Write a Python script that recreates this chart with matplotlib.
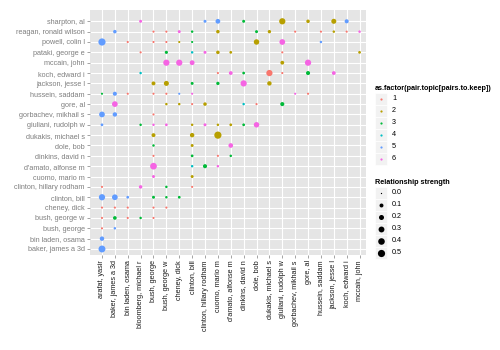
import numpy as np
import matplotlib.pyplot as plt
from matplotlib.patches import Rectangle

plt.rcParams['font.family'] = ['Liberation Sans', 'DejaVu Sans']

# column people (x axis), left to right
x_keys = ['arafat', 'baker', 'binladen', 'bloomberg', 'bush', 'bushw', 'cheney',
          'bclinton', 'hclinton', 'cuomo', 'damato', 'dinkins', 'dole', 'dukakis',
          'giuliani', 'gorbachev', 'gore', 'hussein', 'jackson', 'koch', 'mccain']
x_labels = ['arafat, yasir', 'baker, james a 3d', 'bin laden, osama', 'bloomberg, michael r',
            'bush, george', 'bush, george w', 'cheney, dick', 'clinton, bill',
            'clinton, hillary rodham', 'cuomo, mario m', "d'amato, alfonse m",
            'dinkins, david n', 'dole, bob', 'dukakis, michael s', 'giuliani, rudolph w',
            'gorbachev, mikhail s', 'gore, al', 'hussein, saddam', 'jackson, jesse l',
            'koch, edward i', 'mccain, john']

# row people (y axis), bottom to top
y_keys = ['baker', 'binladen', 'bush', 'bushw', 'cheney', 'bclinton', 'hclinton', 'cuomo',
          'damato', 'dinkins', 'dole', 'dukakis', 'giuliani', 'gorbachev', 'gore',
          'hussein', 'jackson', 'koch', 'mccain', 'pataki', 'powell', 'reagan', 'sharpton']
y_labels = ['baker, james a 3d', 'bin laden, osama', 'bush, george', 'bush, george w',
            'cheney, dick', 'clinton, bill', 'clinton, hillary rodham', 'cuomo, mario m',
            "d'amato, alfonse m", 'dinkins, david n', 'dole, bob', 'dukakis, michael s',
            'giuliani, rudolph w', 'gorbachev, mikhail s', 'gore, al', 'hussein, saddam',
            'jackson, jesse l', 'koch, edward i', 'mccain, john', 'pataki, george e',
            'powell, colin l', 'reagan, ronald wilson', 'sharpton, al']

# pairs kept: row person, column person, topic, relationship strength
pair_row = (['sharpton'] * 8 + ['reagan'] * 13 + ['powell'] * 9 + ['pataki'] * 8
            + ['mccain'] * 5 + ['koch'] * 8 + ['jackson'] * 6 + ['hussein'] * 9
            + ['gore'] * 8 + ['gorbachev'] * 3 + ['giuliani'] * 10 + ['dukakis'] * 3
            + ['dole'] * 3 + ['dinkins'] * 4 + ['damato'] * 4 + ['cuomo'] * 2
            + ['hclinton'] * 4 + ['bclinton'] * 6 + ['cheney'] * 5 + ['bushw'] * 5
            + ['bush'] * 2 + ['binladen'] * 1 + ['baker'] * 1)
pair_col = ['bloomberg', 'hclinton', 'cuomo', 'dinkins', 'giuliani', 'gore', 'jackson', 'koch',
            'baker', 'bush', 'bushw', 'cheney', 'bclinton', 'cuomo', 'dole', 'dukakis',
            'gorbachev', 'hussein', 'jackson', 'koch', 'mccain',
            'arafat', 'binladen', 'bush', 'bushw', 'cheney', 'bclinton', 'dole', 'giuliani',
            'hussein',
            'bloomberg', 'bushw', 'bclinton', 'hclinton', 'cuomo', 'damato', 'giuliani', 'mccain',
            'bushw', 'cheney', 'bclinton', 'giuliani', 'gore',
            'bloomberg', 'cuomo', 'damato', 'dinkins', 'dukakis', 'giuliani', 'gore', 'jackson',
            'bush', 'bushw', 'bclinton', 'cuomo', 'dinkins', 'dukakis',
            'arafat', 'baker', 'binladen', 'bush', 'bushw', 'cheney', 'bclinton', 'gorbachev',
            'gore',
            'baker', 'bushw', 'cheney', 'bclinton', 'hclinton', 'dinkins', 'dole', 'giuliani',
            'arafat', 'baker', 'bush',
            'arafat', 'bloomberg', 'bush', 'bushw', 'bclinton', 'hclinton', 'cuomo', 'damato',
            'dinkins', 'dole',
            'bush', 'bclinton', 'cuomo',
            'bush', 'bclinton', 'damato',
            'bush', 'bclinton', 'cuomo', 'damato',
            'bush', 'bclinton', 'hclinton', 'cuomo',
            'bush', 'bclinton',
            'arafat', 'bloomberg', 'bushw', 'bclinton',
            'arafat', 'baker', 'binladen', 'bush', 'bushw', 'cheney',
            'arafat', 'baker', 'binladen', 'bush', 'bushw',
            'arafat', 'baker', 'binladen', 'bloomberg', 'bush',
            'arafat', 'baker',
            'arafat',
            'arafat']
pair_topic = [6, 5, 5, 3, 2, 2, 2, 5,
              5, 1, 1, 6, 3, 2, 3, 2, 1, 1, 2, 1, 6,
              5, 1, 1, 1, 2, 3, 2, 6, 5,
              1, 3, 4, 6, 2, 2, 1, 2,
              6, 6, 6, 2, 6,
              4, 1, 6, 3, 1, 1, 3, 6,
              2, 2, 3, 3, 6, 2,
              3, 5, 1, 1, 1, 5, 6, 6, 1,
              6, 2, 2, 1, 2, 4, 1, 3,
              5, 5, 1,
              5, 3, 6, 6, 2, 6, 2, 2, 3, 6,
              2, 2, 2,
              3, 2, 6,
              1, 3, 1, 3,
              6, 4, 3, 6,
              6, 2,
              1, 6, 3, 1,
              5, 5, 5, 3, 3, 3,
              1, 1, 1, 1, 1,
              1, 3, 1, 3, 1,
              1, 5,
              5,
              5]
pair_strength = [0.04, 0.04, 0.17, 0.04, 0.35, 0.07, 0.20, 0.11,
                 0.07, 0.01, 0.01, 0.04, 0.02, 0.07, 0.04, 0.06, 0.01, 0.01, 0.02, 0.01, 0.02,
                 0.50, 0.01, 0.01, 0.01, 0.01, 0.01, 0.25, 0.28, 0.02,
                 0.01, 0.05, 0.02, 0.04, 0.07, 0.03, 0.01, 0.03,
                 0.35, 0.35, 0.18, 0.09, 0.35,
                 0.02, 0.01, 0.09, 0.03, 0.35, 0.01, 0.11, 0.09,
                 0.10, 0.20, 0.04, 0.06, 0.35, 0.14,
                 0.01, 0.11, 0.01, 0.01, 0.01, 0.01, 0.01, 0.01, 0.01,
                 0.28, 0.02, 0.02, 0.01, 0.07, 0.02, 0.01, 0.11,
                 0.28, 0.14, 0.01,
                 0.03, 0.02, 0.02, 0.03, 0.02, 0.04, 0.02, 0.03, 0.03, 0.25,
                 0.10, 0.14, 0.50,
                 0.02, 0.04, 0.16,
                 0.01, 0.03, 0.01, 0.02,
                 0.42, 0.02, 0.11, 0.02,
                 0.04, 0.04,
                 0.01, 0.07, 0.02, 0.01,
                 0.35, 0.28, 0.03, 0.04, 0.02, 0.03,
                 0.01, 0.01, 0.01, 0.01, 0.01,
                 0.01, 0.08, 0.01, 0.02, 0.01,
                 0.01, 0.02,
                 0.14,
                 0.45]

topics = [1, 2, 3, 4, 5, 6]
topic_colors = ['#F8766D', '#B79F00', '#00BA38', '#00BFC4', '#619CFF', '#F564E3']
size_breaks = [0.0, 0.1, 0.2, 0.3, 0.4, 0.5]

DPI = 100


def marker_area(strength):
    # ggplot-like area scale: diameter grows with sqrt of the value
    diam_px = 1.3 + 5.9 * np.sqrt(np.asarray(strength) / 0.5)
    return (diam_px * 72.0 / DPI) ** 2


fig = plt.figure(figsize=(5, 3.5), dpi=DPI)
W, H = 500.0, 350.0
left, right, top, bottom = 90, 366, 9.5, 255
ax = fig.add_axes([left / W, 1 - bottom / H, (right - left) / W, (bottom - top) / H])
ax.set_facecolor('#E5E5E5')
for s in ax.spines.values():
    s.set_visible(False)

xi = [x_keys.index(c) for c in pair_col]
yi = [y_keys.index(r) for r in pair_row]
cols = [topic_colors[t - 1] for t in pair_topic]
ax.scatter(xi, yi, s=marker_area(pair_strength), c=cols, linewidths=0, zorder=3)

ax.set_xlim(-0.93, 20.5)
ax.set_ylim(-0.58, 23.14)
ax.set_xticks(range(len(x_keys)))
ax.set_xticklabels(x_labels, rotation=90, fontsize=5.2, color='#1A1A1A')
ax.set_yticks(range(len(y_keys)))
ax.set_yticklabels(y_labels, fontsize=5.2, color='#7F7F7F')
ax.tick_params(length=2.2, width=0.5, color='#7F7F7F', pad=1.5)
ax.grid(True, color='white', linewidth=0.8)
ax.set_axisbelow(True)

# legends drawn in pixel space
lg = fig.add_axes([0, 0, 1, 1])
lg.set_xlim(0, W)
lg.set_ylim(H, 0)
lg.axis('off')

lg.text(375, 89, 'as.factor(pair.topic[pairs.to.keep])', fontsize=5.2,
        fontweight='bold', va='center', ha='left')
for k, (t, c) in enumerate(zip(topics, topic_colors)):
    yc = 99 + 12 * k
    lg.add_patch(Rectangle((375, yc - 6), 12, 12, facecolor='#F2F2F2',
                           edgecolor='white', linewidth=0.5))
    lg.scatter([381], [yc], s=(2.2 * 0.72) ** 2, c=c, linewidths=0)
    lg.text(392, yc, str(t), fontsize=5.2, va='center', ha='left')

lg.text(375, 182, 'Relationship strength', fontsize=5.2, fontweight='bold',
        va='center', ha='left')
for k, b in enumerate(size_breaks):
    yc = 193 + 12 * k
    lg.add_patch(Rectangle((375, yc - 6), 12, 12, facecolor='#F2F2F2',
                           edgecolor='white', linewidth=0.5))
    lg.scatter([381], [yc], s=marker_area(b), c='black', linewidths=0)
    lg.text(392, yc, '%.1f' % b, fontsize=5.2, va='center', ha='left')

fig.savefig('out.png', dpi=DPI)
